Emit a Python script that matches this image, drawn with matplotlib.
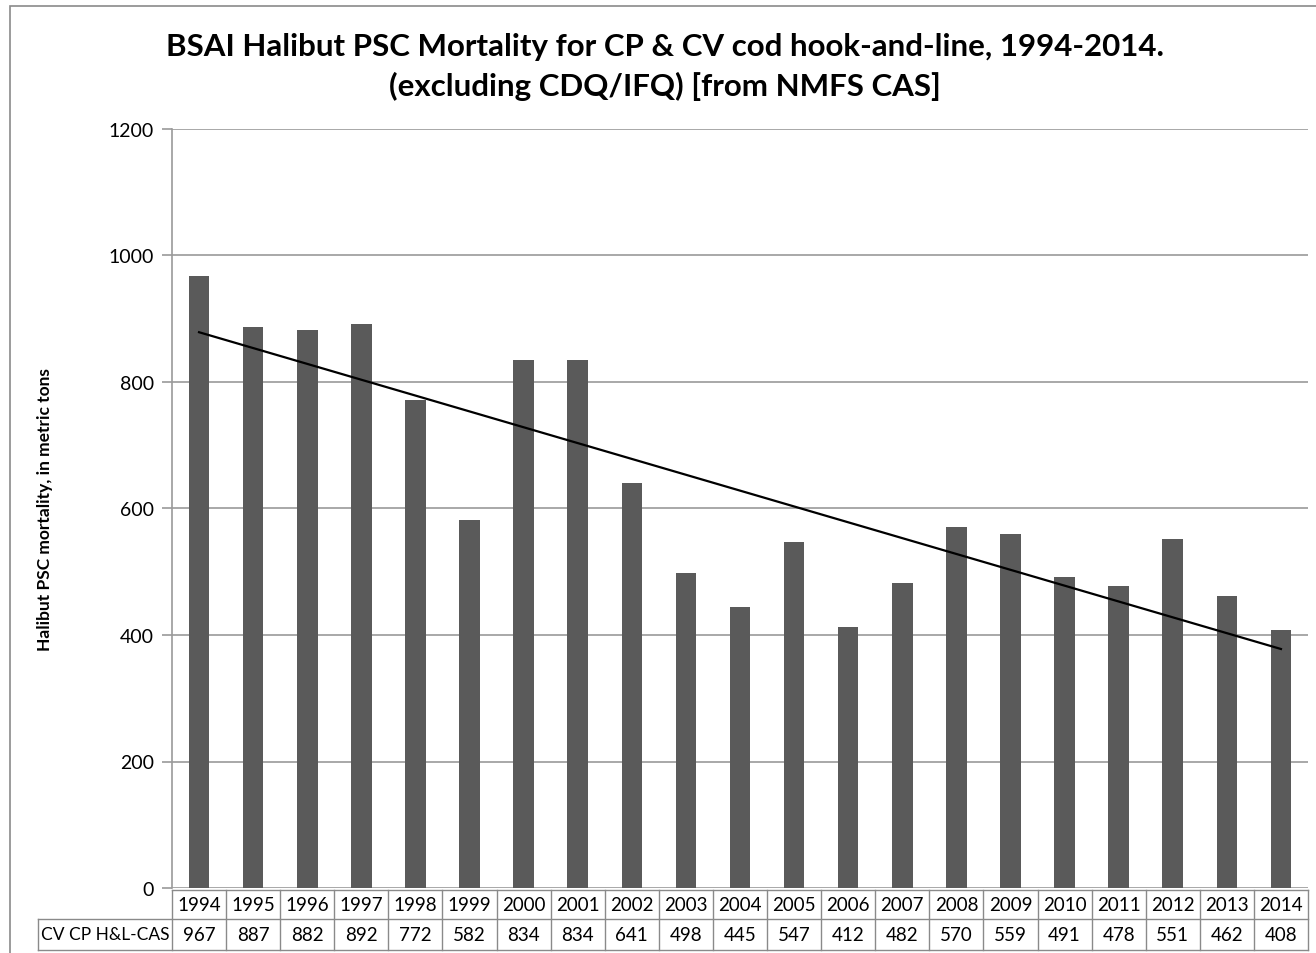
import numpy as np
import matplotlib
matplotlib.use("Agg")
import matplotlib.pyplot as plt
from matplotlib.patches import Rectangle

years = ["1994", "1995", "1996", "1997", "1998", "1999", "2000", "2001", "2002", "2003",
         "2004", "2005", "2006", "2007", "2008", "2009", "2010", "2011", "2012", "2013", "2014"]
values = [967, 887, 882, 892, 772, 582, 834, 834, 641, 498,
          445, 547, 412, 482, 570, 559, 491, 478, 551, 462, 408]
series_label = "CV CP H&L-CAS"
title = "BSAI Halibut PSC Mortality for CP & CV cod hook-and-line, 1994-2014.\n(excluding CDQ/IFQ) [from NMFS CAS]"
ylabel = "Halibut PSC mortality, in metric tons"
yticks = [0, 200, 400, 600, 800, 1000, 1200]

FONT = "Lato"
plt.rcParams['font.family'] = [FONT, 'DejaVu Sans']

fig = plt.figure(figsize=(13.16, 9.54), dpi=100)
W, H = 1316, 954
ax = fig.add_axes([172 / W, 1 - 889 / H, (1308 - 172) / W, (889 - 130) / H])

x = np.arange(len(years))
ax.bar(x, values, width=0.38, color="#5a5a5a", zorder=2)

# linear trendline
coef = np.polyfit(x, values, 1)
ax.plot(x, np.polyval(coef, x), color="black", lw=1.6, zorder=3)

ax.set_xlim(-0.5, len(years) - 0.5)
ax.set_ylim(0, 1200)
ax.set_yticks(yticks)
ax.set_yticklabels([str(t) for t in yticks], fontsize=14)
ax.yaxis.grid(True, color="#9a9a9a", lw=1.2, zorder=0)
ax.set_axisbelow(True)
ax.tick_params(axis='y', length=7, color="#9a9a9a", width=1.2, pad=6)
ax.tick_params(axis='x', length=0, labelbottom=False)
for s in ['top', 'right', 'bottom']:
    ax.spines[s].set_visible(False)
ax.spines['left'].set_color("#9a9a9a")
ax.spines['left'].set_linewidth(1.2)

ax.set_ylabel(ylabel, fontsize=12.5, fontweight='bold', labelpad=40)

# data table beneath the axes
tr = ax.get_xaxis_transform()
ah = (889 - 130)
r1_top, r1_bot = -2 / ah, -31 / ah
r2_bot = -62 / ah
lc = "#8a8a8a"
lw = 1.0
x_left_label = -0.5 - (172 - 38) / ((1308 - 172) / len(years))
# horizontal lines
ax.plot([-0.5, len(years) - 0.5], [r1_top, r1_top], transform=tr, color=lc, lw=lw, clip_on=False)
ax.plot([x_left_label, len(years) - 0.5], [r1_bot, r1_bot], transform=tr, color=lc, lw=lw, clip_on=False)
ax.plot([x_left_label, len(years) - 0.5], [r2_bot, r2_bot], transform=tr, color=lc, lw=lw, clip_on=False)
ax.plot([x_left_label, x_left_label], [r1_bot, r2_bot], transform=tr, color=lc, lw=lw, clip_on=False)
for i in range(len(years) + 1):
    ax.plot([i - 0.5, i - 0.5], [r1_top, r2_bot], transform=tr, color=lc, lw=lw, clip_on=False)
for i, (yr, v) in enumerate(zip(years, values)):
    ax.text(i, (r1_top + r1_bot) / 2, yr, transform=tr, ha='center', va='center', fontsize=13.5, clip_on=False)
    ax.text(i, (r1_bot + r2_bot) / 2, str(v), transform=tr, ha='center', va='center', fontsize=13.5, clip_on=False)
ax.text((x_left_label - 0.5) / 2, (r1_bot + r2_bot) / 2, series_label, transform=tr,
        ha='center', va='center', fontsize=12.5, clip_on=False)

fig.text(0.505, 1 - 67 / H, title, ha='center', va='center', fontsize=22.5,
         fontweight='bold', linespacing=1.45)

# outer chart frame
fig.add_artist(Rectangle((10 / W, -0.1), 1.2, 1 - 7 / H + 0.1, transform=fig.transFigure,
                         fill=False, edgecolor="#8a8a8a", lw=1.2))

fig.savefig("out.png", dpi=100)
